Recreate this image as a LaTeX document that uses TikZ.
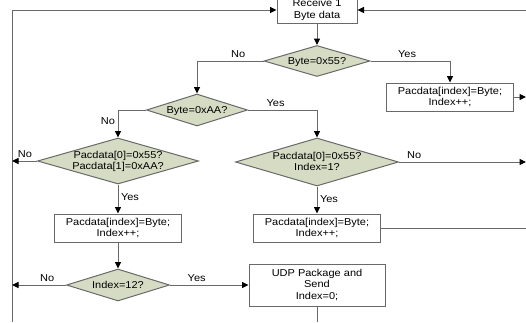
\documentclass[tikz,border=0pt]{standalone}
\usepackage{fontspec}
\setmainfont[FakeStretch=1.1]{Liberation Sans}
\usepackage{xcolor}
\usetikzlibrary{shapes.geometric,arrows.meta}
\definecolor{linegray}{RGB}{105,105,105}
\definecolor{decfill}{RGB}{214,220,196}
\newcommand{\dectext}[1]{\smash{\raisebox{-3.4pt}{\makebox[0pt]{\begin{tabular}{@{}c@{}}#1\end{tabular}}}}}
\begin{document}
\begin{tikzpicture}[x=1pt, y=-1pt,
  every node/.style={font=\fontsize{10}{11.2}\selectfont},
  box/.style={draw=linegray, line width=1pt, fill=white, align=center, inner sep=1pt, minimum width=127pt, minimum height=28pt},
  dec/.style={draw=linegray, line width=1pt, fill=decfill, shape=diamond, inner sep=0pt},
  line/.style={draw=linegray, line width=1pt},
  arr/.style={line, -{Triangle[length=6.5pt, width=6pt, color=black]}},
  lab/.style={inner sep=2.5pt}]
\useasboundingbox[fill=white] (0,0) rectangle (526,322);
% free ends at the edges
\coordinate (lt) at (12,10); \coordinate (lb) at (12,322);
\coordinate (rt) at (526,10); \coordinate (r1) at (526,97);
\coordinate (r2) at (526,162); \coordinate (r3) at (526,228);
\coordinate (ub) at (317,322);
% nodes
\node[box, minimum width=80pt, minimum height=26pt] (recv) at (317,10) {Receive 1\\Byte data};
\node[dec, minimum width=106pt, minimum height=31pt] (d55) at (317,61) {\dectext{Byte=0x55?}};
\node[box] (put1) at (450,97) {Pacdata[index]=Byte;\\Index++;};
\node[dec, minimum width=101pt, minimum height=32pt] (dAA) at (197,110) {\dectext{Byte=0xAA?}};
\node[dec, minimum width=161pt, minimum height=46pt] (chkL) at (118,161) {\dectext{Pacdata[0]=0x55?\\Pacdata[1]=0xAA?}};
\node[dec, minimum width=163pt, minimum height=48pt] (chkR) at (317,162) {\dectext{Pacdata[0]=0x55?\\Index=1?}};
\node[box] (putL) at (118,228) {Pacdata[index]=Byte;\\Index++;};
\node[box] (putR) at (317,228) {Pacdata[index]=Byte;\\Index++;};
\node[dec, minimum width=103pt, minimum height=32pt] (d12) at (118,285) {\dectext{Index=12?}};
\node[box, minimum width=136pt, minimum height=42pt] (udp) at (317,285) {UDP Package and\\Send\\Index=0;};
% connectors
\draw[line] (lb) -- (lt);
\draw[arr] (lt) -- (recv.west);
\draw[arr] (rt) -- (recv.east);
\draw[arr] (recv.south) -- (d55.north);
\draw[arr] (d55.west) -| (dAA.north) node[lab, pos=0.19, above] {No};
\draw[arr] (d55.east) -| (put1.north) node[lab, pos=0.23, above] {Yes};
\draw[arr] (put1.east) -- (r1);
\draw[arr] (dAA.west) -| (chkL.north) node[lab, pos=0.7, left] {No};
\draw[arr] (dAA.east) -| (chkR.north) node[lab, pos=0.2, above] {Yes};
\draw[arr] (chkL.west) -- (chkL.west -| lt) node[lab, pos=0.48, above] {No};
\draw[arr] (chkR.east) -- (r2) node[lab, pos=0.12, above] {No};
\draw[arr] (chkL.south) -- (putL.north) node[lab, pos=0.45, right] {Yes};
\draw[arr] (chkR.south) -- (putR.north) node[lab, pos=0.45, right] {Yes};
\draw[line] (putR.east) -- (r3);
\draw[arr] (putL.south) -- (d12.north);
\draw[arr] (d12.west) -- (d12.west -| lt) node[lab, pos=0.35, above] {No};
\draw[arr] (d12.east) -- (udp.west) node[lab, pos=0.34, above] {Yes};
\draw[line] (udp.south) -- (ub);
\end{tikzpicture}
\end{document}
